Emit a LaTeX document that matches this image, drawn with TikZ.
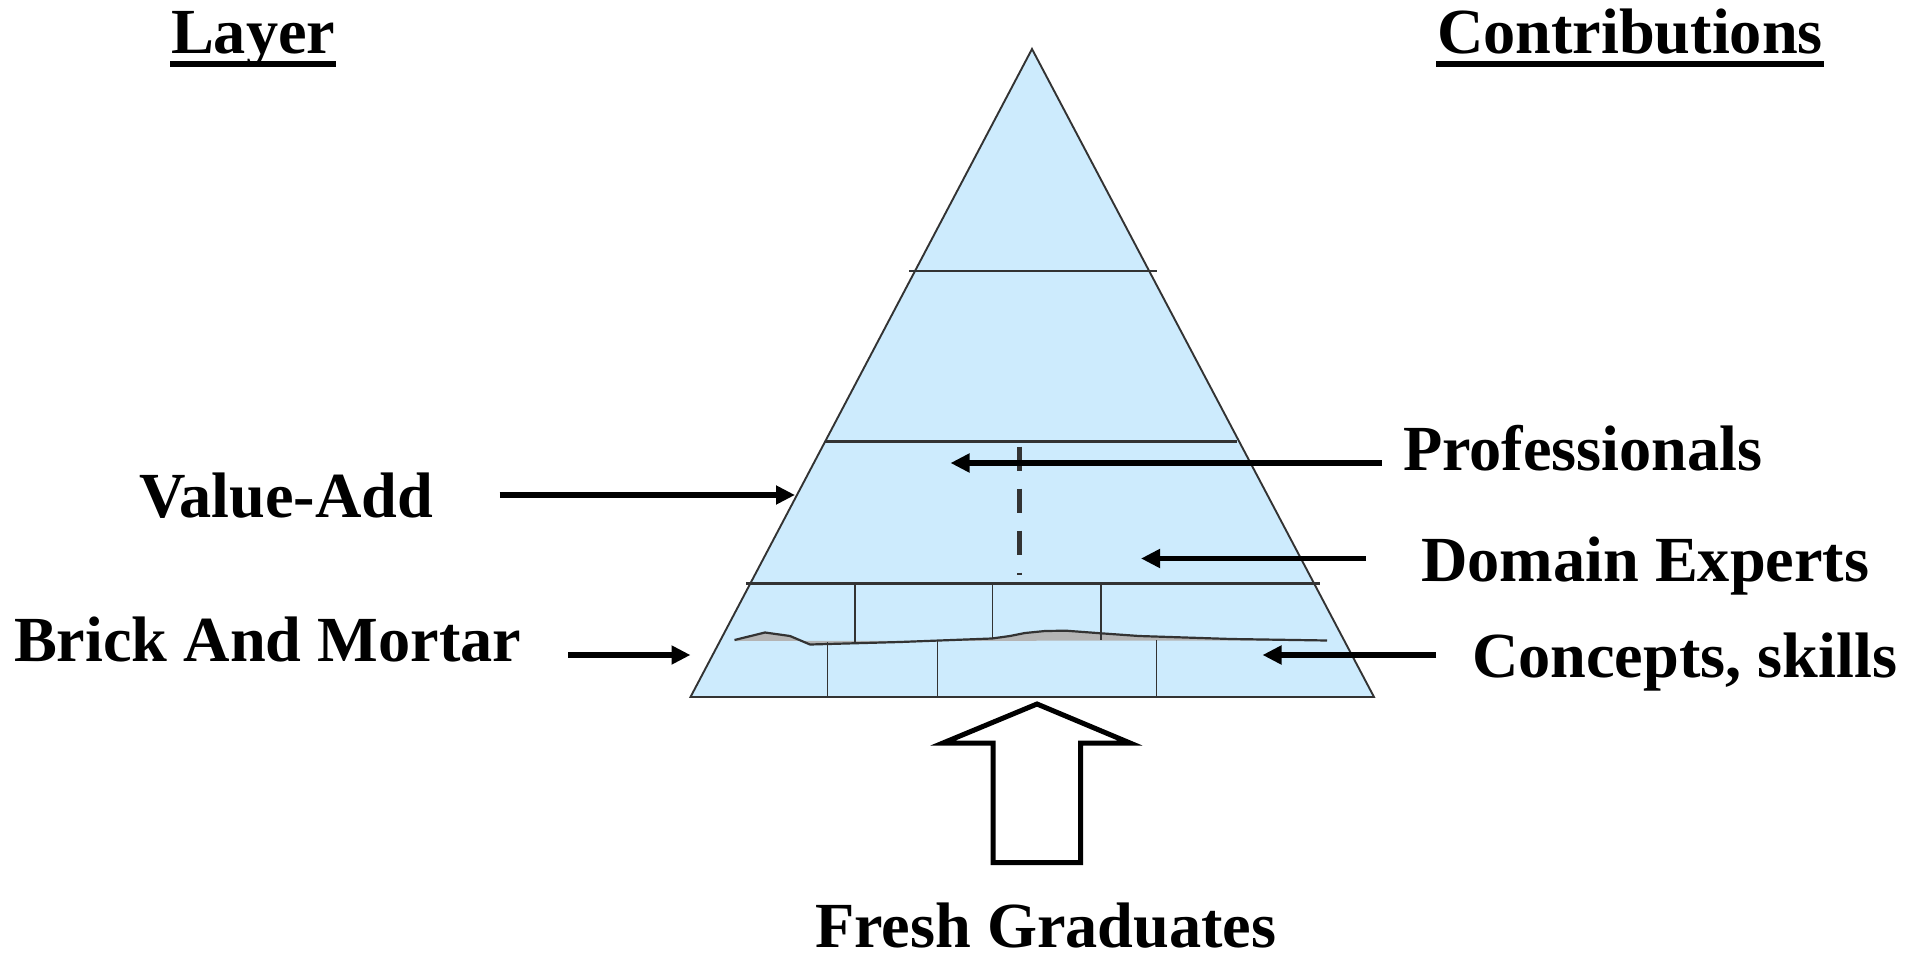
\documentclass[tikz,border=0pt]{standalone}
\usepackage{fontspec}
\setmainfont{Liberation Serif}
\usetikzlibrary{arrows.meta}
\definecolor{pyrfill}{RGB}{205,235,253}
\definecolor{edgecol}{RGB}{51,51,51}
\definecolor{mortarcol}{RGB}{180,180,180}
\begin{document}
\begin{tikzpicture}[x=1pt,y=-1pt,
  lbl/.style={anchor=base west, inner sep=0pt, outer sep=0pt, font=\fontsize{64.3}{70}\selectfont\bfseries},
  arr/.style={line width=5.5pt, -{Triangle[length=19pt,width=18pt]}},
  tier/.style={draw=edgecol, line width=2.2pt},
  brick/.style={draw=edgecol, line width=1.5pt},
  uline/.style={line width=5.5pt},
  dashedge/.style={draw=edgecol, line width=5.5pt, dash pattern=on 24pt off 18pt},
  hollow/.style={draw=black, fill=white, line width=5pt, line join=miter},
]
\useasboundingbox (0,0) rectangle (1915,955);

% pyramid
\coordinate (apex) at (1032,49);
\coordinate (bl) at (690.5,697);
\coordinate (br) at (1374,697);
\fill[pyrfill] (apex) -- (br) -- (bl) -- cycle;

% mortar
\fill[mortarcol] (734.5,640) -- (765,632.5) -- (790,636) -- (810,644.5) -- (900,642) -- (992,638.5)
  -- (1010,636) -- (1025,633) -- (1045,631) -- (1066,630.7) -- (1101,633.3) -- (1139,636)
  -- (1231,639) -- (1327,640.5) -- (734.5,641) -- cycle;
\draw[edgecol, line width=2.2pt, line join=round] (734.5,640) -- (765,632.5) -- (790,636) -- (810,644.5) -- (900,642) -- (992,638.5)
  -- (1010,636) -- (1025,633) -- (1045,631) -- (1066,630.7) -- (1101,633.3) -- (1139,636)
  -- (1231,639) -- (1327,640.5);

% tiers
\draw[tier] (909,271) -- (1157,271);
\draw[tier] (825,441.5) -- (1237,441.5);
\draw[tier] (746,583.5) -- (1320,583.5);

% bricks
\draw[brick] (855,583.5) -- (855,642);
\draw[brick] (992.5,583.5) -- (992.5,639);
\draw[brick] (1101,583.5) -- (1101,640);
\draw[brick] (827.5,642) -- (827.5,697);
\draw[brick] (937.6,641) -- (937.6,697);
\draw[brick] (1156.5,640) -- (1156.5,697);

% outline
\draw[edgecol, line width=1.9pt, line join=miter] (apex) -- (br) -- (bl) -- cycle;

% dashed
\coordinate (dashT) at (1019.3,446.7);
\coordinate (dashB) at (1019.3,574.5);
\draw[dashedge] (dashT) -- (dashB);

% headings
\node[lbl] (layer) at (171,54) {Layer};
\node[lbl] (contrib) at (1437,54) {Contributions};
\draw[uline] ([xshift=-1pt,yshift=-10pt]layer.base west) -- ([xshift=1pt,yshift=-10pt]layer.base east);
\draw[uline] ([xshift=-1pt,yshift=-10pt]contrib.base west) -- ([xshift=1pt,yshift=-10pt]contrib.base east);

% labels
\node[lbl] (prof) at (1403,470.5) {Professionals};
\node[lbl] (domain) at (1421,581) {Domain Experts};
\node[lbl] (concepts) at (1472,677) {Concepts, skills};
\node[lbl] (value) at (139,517.5) {Value-Add};
\node[lbl] (brickl) at (14,661) {Brick And Mortar};
\node[lbl] (fresh) at (815,947) {Fresh Graduates};

% arrows
\coordinate (profA) at (1382,463);
\coordinate (profB) at (950.5,463);
\coordinate (domA) at (1366,558.5);
\coordinate (domB) at (1141,558.5);
\coordinate (conA) at (1436,655);
\coordinate (conB) at (1262.5,655);
\coordinate (valA) at (499.5,495);
\coordinate (valB) at (795,495);
\coordinate (brkA) at (568,655);
\coordinate (brkB) at (690.5,655);
\draw[arr] (profA) -- (profB);
\draw[arr] (domA) -- (domB);
\draw[arr] (conA) -- (conB);
\draw[arr] (valA) -- (valB);
\draw[arr] (brkA) -- (brkB);

% hollow arrow
\draw[hollow] (1037,704) -- (1130,743) -- (1080.5,743) -- (1080.5,862.5) -- (993,862.5) -- (993,743) -- (943,743) -- cycle;
\end{tikzpicture}
\end{document}
